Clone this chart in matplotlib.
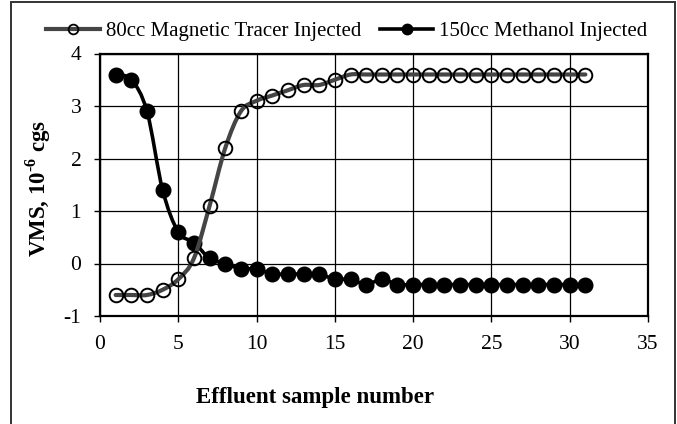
import numpy as np
import matplotlib
matplotlib.use("Agg")
import matplotlib.pyplot as plt
from matplotlib.path import Path
from matplotlib.patches import PathPatch, Rectangle
from matplotlib.lines import Line2D

plt.rcParams['font.family'] = ['Liberation Serif', 'DejaVu Serif']
plt.rcParams['axes.unicode_minus'] = False
plt.rcParams['mathtext.fontset'] = 'custom'
plt.rcParams['mathtext.rm'] = 'Liberation Serif:bold'
plt.rcParams['mathtext.bf'] = 'Liberation Serif:bold'

sample = list(range(1, 32))
tracer = [-0.6, -0.6, -0.6, -0.5, -0.3, 0.1, 1.1, 2.2, 2.9, 3.1, 3.2, 3.3, 3.4, 3.4, 3.5,
          3.6, 3.6, 3.6, 3.6, 3.6, 3.6, 3.6, 3.6, 3.6, 3.6, 3.6, 3.6, 3.6, 3.6, 3.6, 3.6]
methanol = [3.6, 3.5, 2.9, 1.4, 0.6, 0.4, 0.1, 0.0, -0.1, -0.1, -0.2, -0.2, -0.2, -0.2, -0.3,
            -0.3, -0.4, -0.3, -0.4, -0.4, -0.4, -0.4, -0.4, -0.4, -0.4, -0.4, -0.4, -0.4, -0.4, -0.4, -0.4]
labels = ["80cc Magnetic Tracer Injected", "150cc Methanol Injected"]
xticks = [0, 5, 10, 15, 20, 25, 30, 35]
yticks = [-1, 0, 1, 2, 3, 4]


def smooth_path(x, y):
    """Excel-style smoothed line: cubic Bezier segments through the data points."""
    pts = np.column_stack([x, y]).astype(float)
    n = len(pts)
    verts = [pts[0]]
    codes = [Path.MOVETO]
    for i in range(n - 1):
        p0 = pts[i - 1] if i > 0 else pts[i]
        p1 = pts[i]
        p2 = pts[i + 1]
        p3 = pts[i + 2] if i + 2 < n else pts[i + 1]
        c1 = p1 + (p2 - p0) / 6.0
        c2 = p2 - (p3 - p1) / 6.0
        verts += [c1, c2, p2]
        codes += [Path.CURVE4] * 3
    return Path(verts, codes)


fig = plt.figure(figsize=(6.77, 4.24), dpi=100)
ax = fig.add_axes([100 / 677, 1 - 316 / 424, 548 / 677, (316 - 53.5) / 424])

gray = '#454545'
# methanol (below)
ax.add_patch(PathPatch(smooth_path(sample, methanol), fill=False, edgecolor='black',
                       lw=2.6, zorder=3, capstyle='round'))
ax.plot(sample, methanol, linestyle='none', marker='o', ms=10.5, mfc='black',
        mec='black', zorder=4)
# tracer (on top)
ax.add_patch(PathPatch(smooth_path(sample, tracer), fill=False, edgecolor=gray,
                       lw=3.0, zorder=5, capstyle='round'))
ax.plot(sample, tracer, linestyle='none', marker='o', ms=9.8, mfc='none',
        mec='black', mew=1.4, zorder=6)

ax.set_xlim(0, 35)
ax.set_ylim(-1, 4)
ax.set_xticks(xticks)
ax.set_yticks(yticks)
ax.grid(True, color='black', lw=0.9)
ax.set_axisbelow(True)
for s in ax.spines.values():
    s.set_linewidth(1.6)
    s.set_color('black')
ax.tick_params(direction='out', length=4.5, width=1, labelsize=15.5, pad=9, colors='black')

h1 = Line2D([], [], color=gray, lw=3.0, marker='o', ms=7, mfc='none', mec='black', mew=1.3)
h2 = Line2D([], [], color='black', lw=2.6, marker='o', ms=7.5, mfc='black', mec='black')
fig.legend([h1, h2], labels, loc='center', bbox_to_anchor=(347 / 677, 1 - 31 / 424),
           ncol=2, frameon=False, fontsize=15, handlelength=2.55, handletextpad=0.3,
           columnspacing=0.9, borderaxespad=0, borderpad=0)

fig.text(38 / 677, 1 - 188 / 424, r'VMS, 10$^{\text{-6}}$ cgs', rotation=90,
         ha='center', va='center', fontsize=16.5, fontweight='bold')
fig.text(315 / 677, 1 - 398 / 424, 'Effluent sample number', ha='center', va='center',
         fontsize=16.5, fontweight='bold')

fig.patches.append(Rectangle((11 / 677, -0.05), 664 / 677, 1.05 - 1.5 / 424,
                             transform=fig.transFigure, fill=False, edgecolor='#333333',
                             lw=1.4, zorder=10))

fig.savefig('out.png', dpi=100)
